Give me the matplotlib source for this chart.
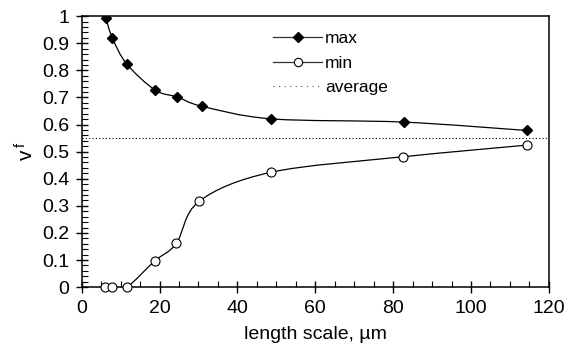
import numpy as np
import matplotlib.pyplot as plt
from matplotlib.path import Path
from matplotlib.patches import PathPatch
from matplotlib.lines import Line2D
from matplotlib.ticker import MultipleLocator

plt.rcParams['font.family'] = ['Liberation Sans', 'DejaVu Sans']

# fraction vs length scale
x_max = [6.2, 7.9, 11.6, 18.9, 24.5, 30.8, 48.7, 82.7, 114.4]
y_max = [0.993, 0.919, 0.823, 0.727, 0.702, 0.668, 0.621, 0.609, 0.578]
x_min = [6.1, 7.9, 11.6, 18.8, 24.3, 30.2, 48.7, 82.5, 114.3]
y_min = [0.0, 0.0, 0.0, 0.097, 0.161, 0.317, 0.424, 0.481, 0.524]
avg = 0.551


def smooth_path(xs, ys):
    # cubic bezier through the points (catmull-rom style control points)
    p = np.column_stack([xs, ys])
    ext = np.vstack([p[0], p, p[-1]])
    verts = [p[0]]
    codes = [Path.MOVETO]
    for i in range(len(p) - 1):
        p0, p1, p2, p3 = ext[i], ext[i + 1], ext[i + 2], ext[i + 3]
        c1 = p1 + (p2 - p0) / 6.0
        c2 = p2 - (p3 - p1) / 6.0
        verts += [c1, c2, p2]
        codes += [Path.CURVE4] * 3
    return Path(verts, codes)


def main():
    fig = plt.figure(figsize=(5.67, 3.51), dpi=100)
    ax = fig.add_axes([0.144, 0.182, 0.824, 0.772])

    for xs, ys in [(x_max, y_max), (x_min, y_min)]:
        ax.add_patch(PathPatch(smooth_path(xs, ys), fill=False, lw=0.9,
                               edgecolor='black', zorder=2))

    ax.plot(x_max, y_max, ls='none', marker='D', ms=5.5, mfc='black',
            mec='black', zorder=3)
    ax.plot(x_min, y_min, ls='none', marker='o', ms=6.5, mfc='white',
            mec='black', mew=0.8, zorder=3, clip_on=False)
    ax.axhline(avg, color='black', ls=(0, (1, 2)), lw=0.8, zorder=1)

    ax.set_xlim(0, 120)
    ax.set_ylim(0, 1)
    ax.xaxis.set_major_locator(MultipleLocator(20))
    ax.xaxis.set_minor_locator(MultipleLocator(5))
    ax.yaxis.set_minor_locator(MultipleLocator(0.02))
    ax.set_yticks(np.arange(0, 1.01, 0.1))
    ax.set_yticklabels(['0'] + ['%.1f' % v for v in np.arange(0.1, 1.0, 0.1)] + ['1'])

    ax.tick_params(which='major', direction='inout', length=8, width=1,
                   labelsize=14, pad=5)
    ax.tick_params(which='minor', direction='in', length=4, width=0.8)
    for s in ax.spines.values():
        s.set_linewidth(1.1)

    ax.set_xlabel('length scale, \u00b5m', fontsize=14, labelpad=7)
    ax.set_ylabel(r'$\mathregular{v^{\,f}}$', fontsize=15, labelpad=3)

    handles = [
        Line2D([], [], color='#333333', lw=0.9, marker='D', ms=5, mfc='black', mec='black'),
        Line2D([], [], color='#333333', lw=0.9, marker='o', ms=6, mfc='white', mec='black', mew=0.8),
        Line2D([], [], color='#555555', lw=0.8, ls=(0, (1, 4))),
    ]
    ax.legend(handles, ['max', 'min', 'average'], loc='upper left',
              bbox_to_anchor=(0.457, 0.952), bbox_transform=fig.transFigure,
              frameon=False, fontsize=12.5, handlelength=2.85,
              handletextpad=0.15, labelspacing=0.55, numpoints=1,
              borderpad=0.3)

    fig.savefig('out.png', dpi=100)


if __name__ == "__main__":
    main()
